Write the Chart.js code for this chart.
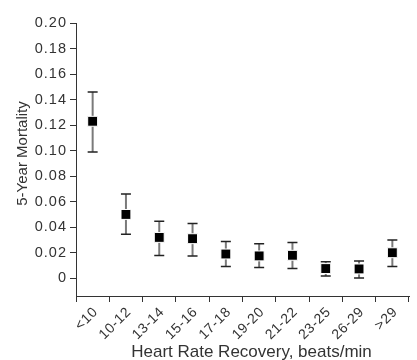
<!DOCTYPE html>
<html>
<head>
<meta charset="utf-8">
<script src="https://cdn.jsdelivr.net/npm/chart.js@4/dist/chart.umd.min.js"></script>
<style>
html,body{margin:0;padding:0;background:#fff;}
#wrap{width:417px;height:360px;}
</style>
</head>
<body>
<div id="wrap"><canvas id="c" width="417" height="360"></canvas></div>
<script>
const categories = ['<10','10-12','13-14','15-16','17-18','19-20','21-22','23-25','26-29','>29'];
const mortality  = [0.123, 0.050, 0.032, 0.031, 0.019, 0.0175, 0.018, 0.0076, 0.0073, 0.020];
const ciUpper    = [0.146, 0.066, 0.0447, 0.043, 0.0288, 0.027, 0.028, 0.013, 0.0136, 0.030];
const ciLower    = [0.099, 0.0345, 0.0178, 0.0175, 0.0092, 0.0084, 0.0076, 0.0018, 0.0003, 0.0092];
const yTicks     = [0, 0.02, 0.04, 0.06, 0.08, 0.10, 0.12, 0.14, 0.16, 0.18, 0.20];
const xTitle = 'Heart Rate Recovery, beats/min';
const yTitle = '5-Year Mortality';

const FONT = "'Liberation Sans', Arial, Helvetica, sans-serif";
const TEXT = '#333';

const errorBars = {
  id: 'errorBars',
  beforeDatasetsDraw(chart) {
    const ctx = chart.ctx, xs = chart.scales.x, ys = chart.scales.y;
    ctx.save();
    categories.forEach((c, i) => {
      const x = xs.getPixelForValue(i);
      const yu = ys.getPixelForValue(ciUpper[i]);
      const yl = ys.getPixelForValue(ciLower[i]);
      ctx.strokeStyle = '#7a7a7a';
      ctx.lineWidth = 2;
      ctx.beginPath(); ctx.moveTo(x, yu); ctx.lineTo(x, yl); ctx.stroke();
      ctx.strokeStyle = '#222';
      ctx.lineWidth = 1.5;
      ctx.beginPath();
      ctx.moveTo(x - 5, yu); ctx.lineTo(x + 5, yu);
      ctx.moveTo(x - 5, yl); ctx.lineTo(x + 5, yl);
      ctx.stroke();
    });
    ctx.restore();
  }
};

const axisTitles = {
  id: 'axisTitles',
  afterDraw(chart) {
    const ctx = chart.ctx, xs = chart.scales.x, ys = chart.scales.y;
    ctx.save();
    ctx.fillStyle = TEXT;
    ctx.textAlign = 'center';
    ctx.textBaseline = 'middle';
    ctx.font = "17px " + FONT;
    ctx.fillText(xTitle, (xs.left + xs.right) / 2 + 9, xs.bottom - 8);
    ctx.translate(ys.left + 23, (ys.top + ys.bottom) / 2 - 6);
    ctx.rotate(-Math.PI / 2);
    ctx.font = "15px " + FONT;
    ctx.fillText(yTitle, 0, 0);
    ctx.restore();
  }
};

function spacedLabels(spacing) {
  return function (s) {
    if (!s._lsPatched) {
      const orig = s.drawLabels.bind(s);
      s.drawLabels = function (area) {
        const ctx = this.ctx;
        const prev = ctx.letterSpacing;
        ctx.letterSpacing = spacing;
        orig(area);
        ctx.letterSpacing = prev || '0px';
      };
      s._lsPatched = true;
    }
  };
}

new Chart(document.getElementById('c'), {
  type: 'line',
  data: {
    labels: categories,
    datasets: [{
      data: mortality,
      showLine: false,
      pointStyle: 'rect',
      pointRadius: 7,
      pointBackgroundColor: '#000',
      pointBorderColor: '#fff',
      pointBorderWidth: 1
    }]
  },
  options: {
    responsive: false,
    devicePixelRatio: 1,
    animation: false,
    layout: { padding: { top: 23, right: 0, left: 0, bottom: 0 } },
    plugins: { legend: { display: false }, tooltip: { enabled: false } },
    scales: {
      x: {
        type: 'category',
        offset: true,
        afterUpdate: spacedLabels('0.6px'),
        grid: { display: true, drawOnChartArea: false, drawTicks: true, tickLength: 6, color: '#333', offset: true },
        border: { display: true, color: '#333', width: 1 },
        ticks: { color: TEXT, font: { family: FONT, size: 14 }, minRotation: 45, maxRotation: 45, padding: 2, labelOffset: 3, autoSkip: false },
        title: { display: false },
        afterFit(s) { s.height = 64; }
      },
      y: {
        type: 'linear',
        min: -0.0139,
        max: 0.2,
        afterBuildTicks(s) { s.ticks = yTicks.map(v => ({ value: v })); },
        afterUpdate: spacedLabels('1px'),
        grid: { display: true, drawOnChartArea: false, drawTicks: true, tickLength: 6, color: '#333' },
        border: { display: true, color: '#333', width: 1 },
        ticks: { color: TEXT, font: { family: FONT, size: 14.5 }, padding: 3, callback: v => v === 0 ? '0' : Number(v).toFixed(2) },
        title: { display: false },
        afterFit(s) { s.width = 76; }
      }
    }
  },
  plugins: [errorBars, axisTitles]
});
</script>
</body>
</html>
